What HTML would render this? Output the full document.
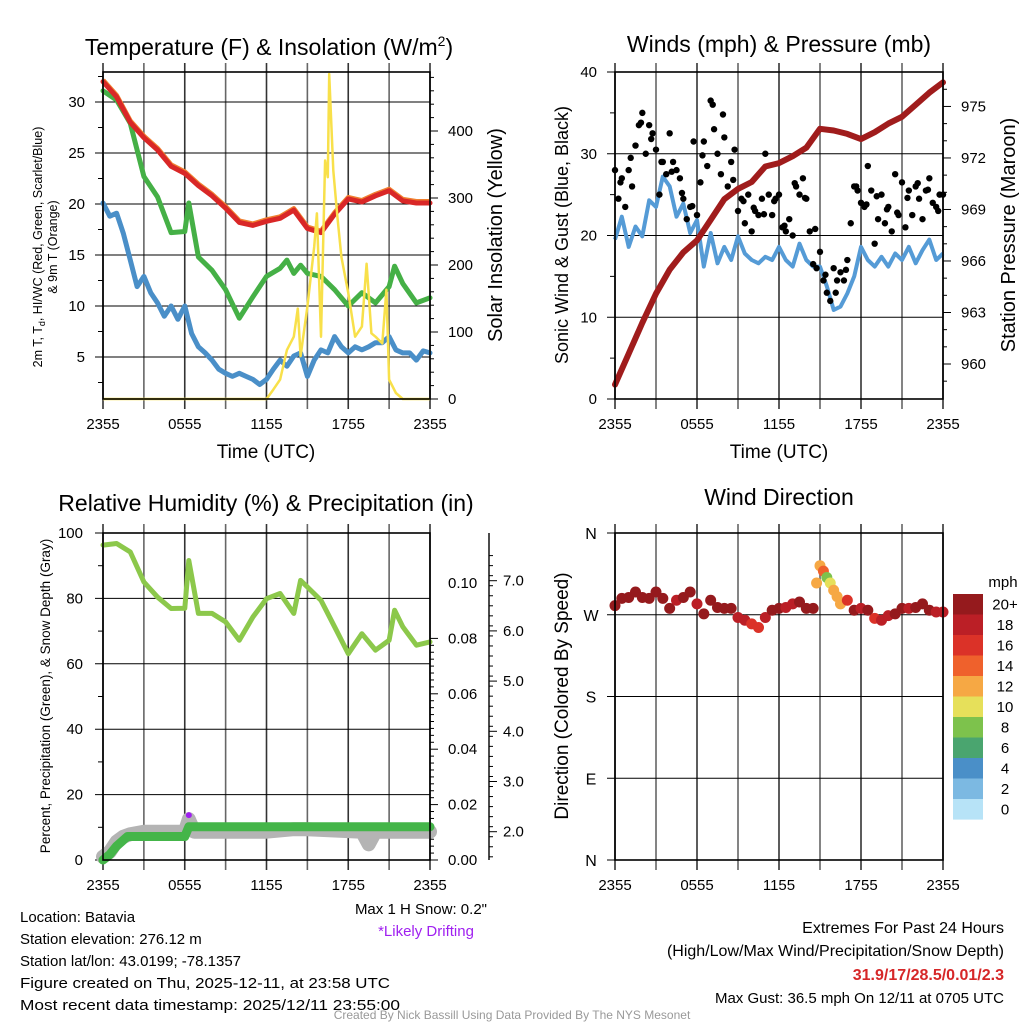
<!DOCTYPE html>
<html><head><meta charset="utf-8">
<style>
html,body{margin:0;padding:0;background:#fff;}
svg{display:block;font-family:"Liberation Sans",Arial,sans-serif;}
</style></head>
<body>
<svg id="chart" width="1024" height="1024" viewBox="0 0 1024 1024" xmlns="http://www.w3.org/2000/svg">
<rect x="0" y="0" width="1024" height="1024" fill="#fff"/>
<text x="269" y="55" font-size="23" text-anchor="middle">Temperature (F) &amp; Insolation (W/m<tspan dy="-9" font-size="14">2</tspan><tspan dy="9">)</tspan></text>
<text x="779" y="52" font-size="23" text-anchor="middle">Winds (mph) &amp; Pressure (mb)</text>
<text x="266" y="511" font-size="23" text-anchor="middle">Relative Humidity (%) &amp; Precipitation (in)</text>
<text x="779" y="505" font-size="23" text-anchor="middle">Wind Direction</text>

<text x="266" y="458" font-size="19" text-anchor="middle">Time (UTC)</text>
<text x="779" y="458" font-size="19" text-anchor="middle">Time (UTC)</text>

<g transform="translate(42,247) rotate(-90)">
<text x="0" y="0" font-size="12.5" text-anchor="middle">2m T, T<tspan font-size="9" dy="3">d</tspan><tspan dy="-3">, HI/WC (Red, Green, Scarlet/Blue)</tspan></text>
<text x="0" y="15" font-size="12.5" text-anchor="middle">&amp; 9m T (Orange)</text>
</g>
<text transform="translate(502,235) rotate(-90)" font-size="20" text-anchor="middle">Solar Insolation (Yellow)</text>
<text transform="translate(568,235) rotate(-90)" font-size="18" text-anchor="middle">Sonic Wind &amp; Gust (Blue, Black)</text>
<text transform="translate(1015,235) rotate(-90)" font-size="20" text-anchor="middle">Station Pressure (Maroon)</text>
<text transform="translate(50,696) rotate(-90)" font-size="13.5" text-anchor="middle">Percent, Precipitation (Green), &amp; Snow Depth (Gray)</text>
<text transform="translate(568,696) rotate(-90)" font-size="19" text-anchor="middle">Direction (Colored By Speed)</text>

<text x="1003" y="587" font-size="15" text-anchor="middle">mph</text>

<g font-size="15">
<text x="20" y="922">Location: Batavia</text>
<text x="20" y="944">Station elevation: 276.12 m</text>
<text x="20" y="966">Station lat/lon: 43.0199; -78.1357</text>
<text x="20" y="988" textLength="370" lengthAdjust="spacingAndGlyphs">Figure created on Thu, 2025-12-11, at 23:58 UTC</text>
<text x="20" y="1010" textLength="380" lengthAdjust="spacingAndGlyphs">Most recent data timestamp: 2025/12/11 23:55:00</text>
</g>
<text x="487" y="914" font-size="15" text-anchor="end">Max 1 H Snow: 0.2"</text>
<text x="426" y="936" font-size="15" fill="#a020f0" text-anchor="middle">*Likely Drifting</text>
<g font-size="16" text-anchor="end">
<text x="1004" y="933">Extremes For Past 24 Hours</text>
<text x="1004" y="956">(High/Low/Max Wind/Precipitation/Snow Depth)</text>
<text x="1004" y="980" font-weight="bold" fill="#d62728">31.9/17/28.5/0.01/2.3</text>
<text x="1004" y="1003" font-size="15">Max Gust: 36.5 mph On 12/11 at 0705 UTC</text>
</g>
<text x="512" y="1019" font-size="12" fill="#999" text-anchor="middle">Created By Nick Bassill Using Data Provided By The NYS Mesonet</text>
<g id="layer"></g>
</svg>
<script>
// ---------- DATA ----------
const hourly = [0,1,2,3,4,5,6,7,8,9,10,11,12,13,14,15,16,17,18,19,20,21,22,23,24];
const halfHours = [0,0.5,1,1.5,2,2.5,3,3.5,4,4.5,5,5.5,6,6.5,7,7.5,8,8.5,9,9.5,10,10.5,11,11.5,12,12.5,13,13.5,14,14.5,15,15.5,16,16.5,17,17.5,18,18.5,19,19.5,20,20.5,21,21.5,22,22.5,23,23.5,24];
const tempRed = [32,30.5,28,26.5,25.3,23.7,23,21.8,20.8,19.6,18.2,17.9,18.3,18.6,19.4,17.6,17.2,19,20.5,20.2,20.8,21.3,20.3,20.1,20.1];
const greenTimes = [0,1,2,3,4,5,6,6.3,7,8,9,10,11,12,13,13.5,14,14.5,15,16,17,18,19,20,21,21.4,22,23,24];
const windChillGreen = [31.1,30.2,27.9,22.7,20.7,17.2,17.3,20.1,14.8,13.5,11.6,8.8,10.9,12.9,13.7,14.5,13.2,14,13.2,12.9,11.6,10,11.3,10.3,11.9,13.9,12.2,10.3,10.8];
const dewBlue = [20.1,18.8,19.1,17.1,14.5,11.9,12.9,11.3,10.3,9,10,8.7,10,7.3,6,5.4,4.7,3.8,3.4,3.1,3.4,3.1,2.8,2.3,2.8,3.8,4.7,4.1,5.1,5.4,3.1,4.7,5.7,5.4,7,6,5.4,6,5.7,6,6.4,6.4,7,5.7,5.4,5.4,4.7,5.6,5.4];
const solarTimes = [0,12,12.5,13,13.5,14,14.3,14.5,15,15.5,15.7,16,16.3,16.5,16.6,16.9,17.2,17.5,18,18.5,19,19.35,19.7,20,20.5,20.8,21,21.5,22,24];
const solar = [0,0,14,29,73,93,135,64,138,227,277,93,356,331,485,341,272,212,158,93,108,202,98,93,83,163,29,9,0,0];
const pressure = [958.8,960.6,962.4,964.1,965.5,966.5,967.2,968.4,969.6,970.2,970.6,971.5,971.7,972.1,972.6,973.7,973.6,973.4,973.1,973.5,974.0,974.4,975.1,975.8,976.4];
const windBlue = [19.5,22.3,18.6,21.1,19.9,24.3,23.5,27.2,26,22.3,23.9,20.3,21.9,16.2,20.3,16.6,18.6,17,19.9,17.8,17,16.6,17.4,17,18.6,17,16.2,19,17,16.2,16.2,13.8,10.9,11.3,12.9,15,18.6,17,16.2,17.4,16.2,17.8,17,18.6,16.6,18.2,19.5,17,17.8];
const gust = [28,24.5,27,23.5,28,26,31,33.5,35,30,33.5,32.5,30.5,25,29,27.5,32.5,29,28,27,24.5,22,23.5,31.5,22.5,26.5,31.5,28.5,36.5,33,30,27.5,32,26,29,30.5,23,24.5,21.5,25,20.5,23,22.5,24.5,30,25,22.5,24.5,25,21,20.5,22,20,26,25,27,24.5,20.5,16.5,16,18,14.5,13,12,16,14.5,15.5,14.5,17,21.5,26,25.5,24,23.5,28.5,25.5,19,22,25,21.5,23.5,20.5,27.5,22.5,26.5,21,25.5,22.5,26,24.5,22,25.5,27,24,23.5,25,25];
const gustExtra = [26.5,29.5,33.8,31.8,29,27.8,25.2,23.6,29.8,36,34.8,26.8,24.2,23.4,22.6,24.2,21.2,26.4,24.6,20.8,15.2,13,15.8,26,23.8,24.8,23.2,22.8,24.6,26.4,25.6,23];
const rhTimes = [0,1,2,3,4,5,6,6.3,7,8,9,10,11,12,13,14,14.5,15,16,17,18,19,20,21,21.4,22,23,24];
const rh = [96.3,96.8,94.2,85,80.4,76.9,77,91.6,75.4,75.4,72.8,67.2,74.3,79.9,81.5,75.4,85.5,83.5,79.4,71.3,63.1,69.2,64.2,67.2,76.4,71.3,65.7,66.7];
const precipTimes = [0,0.5,1,1.8,6,6.3,24];
const precip = [0,0.002,0.005,0.0085,0.0085,0.012,0.012];
const snowTimes = [0,0.5,1,1.5,2,3,6,6.3,6.7,8,12,14,15,19,19.5,20,24];
const snow = [1.5,1.6,1.8,1.9,1.95,2.0,2.0,2.25,2.0,2.0,2.0,2.05,2.05,2.0,1.75,2.0,2.0];
const dirTimes = [0,0.5,1,1.5,2,2.5,3,3.5,4,4.5,5,5.5,6,6.5,7,7.5,8,8.5,9,9.5,10,10.5,11,11.5,12,12.5,13,13.5,14,14.5,14.75,15,15.25,15.5,15.75,16,16.25,16.5,17,17.5,18,18.5,19,19.5,20,20.5,21,21.5,22,22.5,23,23.5,24];
const direction = [280,288,289,295,289,288,295,288,277,286,289,295,282,271,286,278,277,277,267,264,260,256,267,275,277,278,282,284,277,277,305,324,318,311,305,297,290,282,286,275,277,275,266,264,269,271,277,277,278,282,275,273,273];
const dirSpeed = [20,20,20,20,20,20,20,20,20,18,20,20,18,20,20,20,20,20,18,18,16,16,18,20,20,18,18,20,20,20,12,12,14,8,10,12,12,12,16,20,18,20,16,18,18,20,20,18,20,20,20,18,18];
const cbLabels = ["20+","18","16","14","12","10","8","6","4","2","0"];
const cbColors = ["#951a1d","#bb1f26","#db3228","#ef612c","#f6a844","#e6e05a","#7dc24c","#4aa56f","#4a8fc8","#7cb9e2","#b7e3f7"];
const timeLabels = ["2355","0555","1155","1755","2355"];
const tempTicks = [5,10,15,20,25,30];
const solarTicks = [0,100,200,300,400];
const windTicks = [0,10,20,30,40];
const presTicks = [960,963,966,969,972,975];
const rhTicks = [0,20,40,60,80,100];
const precipTicks = ["0.00","0.02","0.04","0.06","0.08","0.10"];
const snowTicks = ["2.0","3.0","4.0","5.0","6.0","7.0"];
const dirTicks = ["N","E","S","W","N"];

// ---------- HELPERS ----------
const NS = "http://www.w3.org/2000/svg";
const layer = document.getElementById("layer");
function mk(tag, attrs, parent){ const e=document.createElementNS(NS,tag); for(const k in attrs) e.setAttribute(k,attrs[k]); (parent||layer).appendChild(e); return e; }
const P1={x0:103,x1:430,y0:72,y1:399}, P2={x0:615,x1:943,y0:72,y1:399}, P3={x0:103,x1:430,y0:533,y1:860}, P4={x0:615,x1:943,y0:533,y1:860};
function xs(P){ return h => P.x0 + h/24*(P.x1-P.x0); }
const yT = v => 357-(v-5)*10.2;
const yS = v => 399 - v*0.67;
const yW = v => 399 - v*8.175;
const yP = p => 364 - (p-960)*17.17;
const yR = v => 860 - v*3.27;
const yPr = v => 860 - v*2770;
const ySn = v => 831.7 - (v-2)*50.2;
const yD = d => 860 - d/360*327;
function pathFrom(times, vals, fx, fy){ return times.map((t,i)=>(i?"L":"M")+fx(t).toFixed(1)+","+fy(vals[i]).toFixed(1)).join(""); }

function frame(P, name){
  const g=mk("g",{});
  
  
  for(let i=0;i<=8;i++){
    const x=P.x0+i*(P.x1-P.x0)/8;
    const ln=mk("line",{x1:x,x2:x,y1:P.y0-9,y2:P.y1+10,stroke:(i%2? "#666":"#333"),"stroke-width":1.6},g);
    
    
  }
  for(let i=0;i<5;i++){
    const t=mk("text",{x:P.x0+i*(P.x1-P.x0)/4,y:P.y1+30,"font-size":15,"text-anchor":"middle"},g);
    t.textContent=timeLabels[i];
    
    
  }
  return g;
}
function hgrid(P, ys, g){ ys.forEach(y=>{ const l=mk("line",{x1:P.x0-8,x2:P.x1,y1:y,y2:y,stroke:"#000","stroke-width":1},g);   }); }
function box(P,name){ const r=mk("rect",{x:P.x0,y:P.y0,width:P.x1-P.x0,height:P.y1-P.y0,fill:"none",stroke:"#000","stroke-width":1.6});   }
function label(x,y,txt,anchor,size,name){ const t=mk("text",{x:x,y:y,"font-size":size||15,"text-anchor":anchor}); t.textContent=txt;   return t; }
function tick(x1,y,x2,name){ const l=mk("line",{x1:x1,x2:x2,y1:y,y2:y,stroke:"#000","stroke-width":1});   }

// ---------- PANEL 1 ----------
{
  const P=P1, X=xs(P);
  const g=frame(P,'temperature');
  hgrid(P, tempTicks.map(yT), g);
  for(let v=2.5; v<=32.5; v+=5) tick(P.x0-5,yT(v),P.x0,'minor-tick-temperature');
  tempTicks.forEach(v=>label(85,yT(v)+5,String(v),"end",15,'y-tick-label-temperature'));
  for(let v=0; v<=480; v+=20) tick(P.x1,yS(v),P.x1+(v%100?4:8),'tick-solar');
  solarTicks.forEach(v=>label(448,yS(v)+5,String(v),"start",15,'y-tick-label-solar'));
  const blue=mk("path",{d:pathFrom(halfHours,dewBlue,X,yT),fill:"none",stroke:"#4a8fc8","stroke-width":5,"stroke-linejoin":"round","stroke-linecap":"round"});
  
  
  const green=mk("path",{d:pathFrom(greenTimes,windChillGreen,X,yT),fill:"none",stroke:"#45b046","stroke-width":5,"stroke-linejoin":"round","stroke-linecap":"round"});
  
  
  const orange=mk("path",{d:pathFrom(hourly,tempRed,X,v=>yT(v)-1.5),fill:"none",stroke:"#f08030","stroke-width":5,"stroke-linejoin":"round"});
  
  
  const red=mk("path",{d:pathFrom(hourly,tempRed,X,yT),fill:"none",stroke:"#d92727","stroke-width":5,"stroke-linejoin":"round","stroke-linecap":"round"});
  
  
  const yel=mk("path",{d:pathFrom(solarTimes,solar,X,yS),fill:"none",stroke:"#f8e04a","stroke-width":2.5,"stroke-linejoin":"round"});
  
  
  box(P,'temperature');
}
// ---------- PANEL 2 ----------
{
  const P=P2, X=xs(P);
  const g=frame(P,'winds');
  hgrid(P, windTicks.map(yW), g);
  for(let v=5; v<40; v+=10) tick(P.x0-5,yW(v),P.x0,'minor-tick-wind');
  windTicks.forEach(v=>label(597,yW(v)+5,String(v),"end",15,'y-tick-label-wind'));
  for(let p=959; p<=976; p++) tick(P.x1,yP(p),P.x1+((p-960)%3?4:8),'tick-pressure');
  presTicks.forEach(v=>label(961,yP(v)+5,String(v),"start",15,'y-tick-label-pressure'));
  const w=mk("path",{d:pathFrom(halfHours,windBlue,X,yW),fill:"none",stroke:"#559bd6","stroke-width":4,"stroke-linejoin":"round"});
  
  
  gust.forEach((v,i)=>{
    const c=mk("circle",{cx:X(i*0.25),cy:yW(v),r:3.2,fill:"#000"});
    
    
  });
  gustExtra.forEach((v,i)=>{
    const c=mk("circle",{cx:X(i*0.75+0.4),cy:yW(v),r:3.2,fill:"#000"});
    
    
  });
  const pr=mk("path",{d:pathFrom(hourly,pressure,X,yP),fill:"none",stroke:"#a01c1c","stroke-width":6,"stroke-linejoin":"round","stroke-linecap":"round"});
  
  
  box(P,'winds');
}
// ---------- PANEL 3 ----------
{
  const P=P3, X=xs(P);
  const g=frame(P,'humidity');
  hgrid(P, rhTicks.map(yR), g);
  for(let v=10; v<100; v+=20) tick(P.x0-5,yR(v),P.x0,'minor-tick-humidity');
  rhTicks.forEach(v=>label(83,yR(v)+5,String(v),"end",15,'y-tick-label-humidity'));
  for(let k=0;k<=32;k++){ const v=k*0.0025; if(yPr(v)<P.y0) break; tick(P.x1,yPr(v),P.x1+(k%8?4:8),'tick-precip'); }
  precipTicks.forEach(s=>label(448,yPr(parseFloat(s))+5,s,"start",15,'y-tick-label-precip'));
  const ax=mk("line",{x1:489,x2:489,y1:533,y2:860,stroke:"#000","stroke-width":1.4});
  
  
  for(let v=1.5; v<=7.6; v+=0.2){ tick(489,ySn(v),489+4,'tick-snow'); }
  snowTicks.forEach(s=>{ tick(489,ySn(parseFloat(s)),497,'tick-snow-major'); label(503,ySn(parseFloat(s))+5,s,"start",15,'y-tick-label-snow'); });
  const sn=mk("path",{d:pathFrom(snowTimes,snow,X,ySn),fill:"none",stroke:"#b4b4b4","stroke-width":14,"stroke-linejoin":"round","stroke-linecap":"round"});
  
  
  const dot=mk("circle",{cx:X(6.3),cy:ySn(2.25)-4,r:3,fill:"#a020f0"});
  
  
  const pc=mk("path",{d:pathFrom(precipTimes,precip,X,yPr),fill:"none",stroke:"#44b549","stroke-width":9,"stroke-linejoin":"round","stroke-linecap":"round"});
  
  
  const r=mk("path",{d:pathFrom(rhTimes,rh,X,yR),fill:"none",stroke:"#8cc84b","stroke-width":5,"stroke-linejoin":"round","stroke-linecap":"round"});
  
  
  box(P,'humidity');
}
// ---------- PANEL 4 ----------
{
  const P=P4, X=xs(P);
  const g=frame(P,'direction');
  hgrid(P, [0,90,180,270,360].map(yD), g);
  dirTicks.forEach((s,i)=>label(591,yD(i*90)+6,s,"middle",16,'y-tick-label-direction'));
  function colorFor(s){ let idx; if(s>=20) idx=0; else idx=10-Math.floor(s/2); if(idx<0) idx=0; if(idx>10) idx=10; return cbColors[idx]; }
  direction.forEach((d,i)=>{
    const c=mk("circle",{cx:X(dirTimes[i]),cy:yD(d),r:5.5,fill:colorFor(dirSpeed[i])});
    
    
  });
  box(P,'direction');
  cbLabels.forEach((s,i)=>{
    const rc=mk("rect",{x:953,y:594+i*20.5,width:30,height:20.6,fill:cbColors[i]});
    
    
    label(1005,594+i*20.5+15.5,s,"middle",15,'colorbar-label');
  });
}
</script>
</body></html>
